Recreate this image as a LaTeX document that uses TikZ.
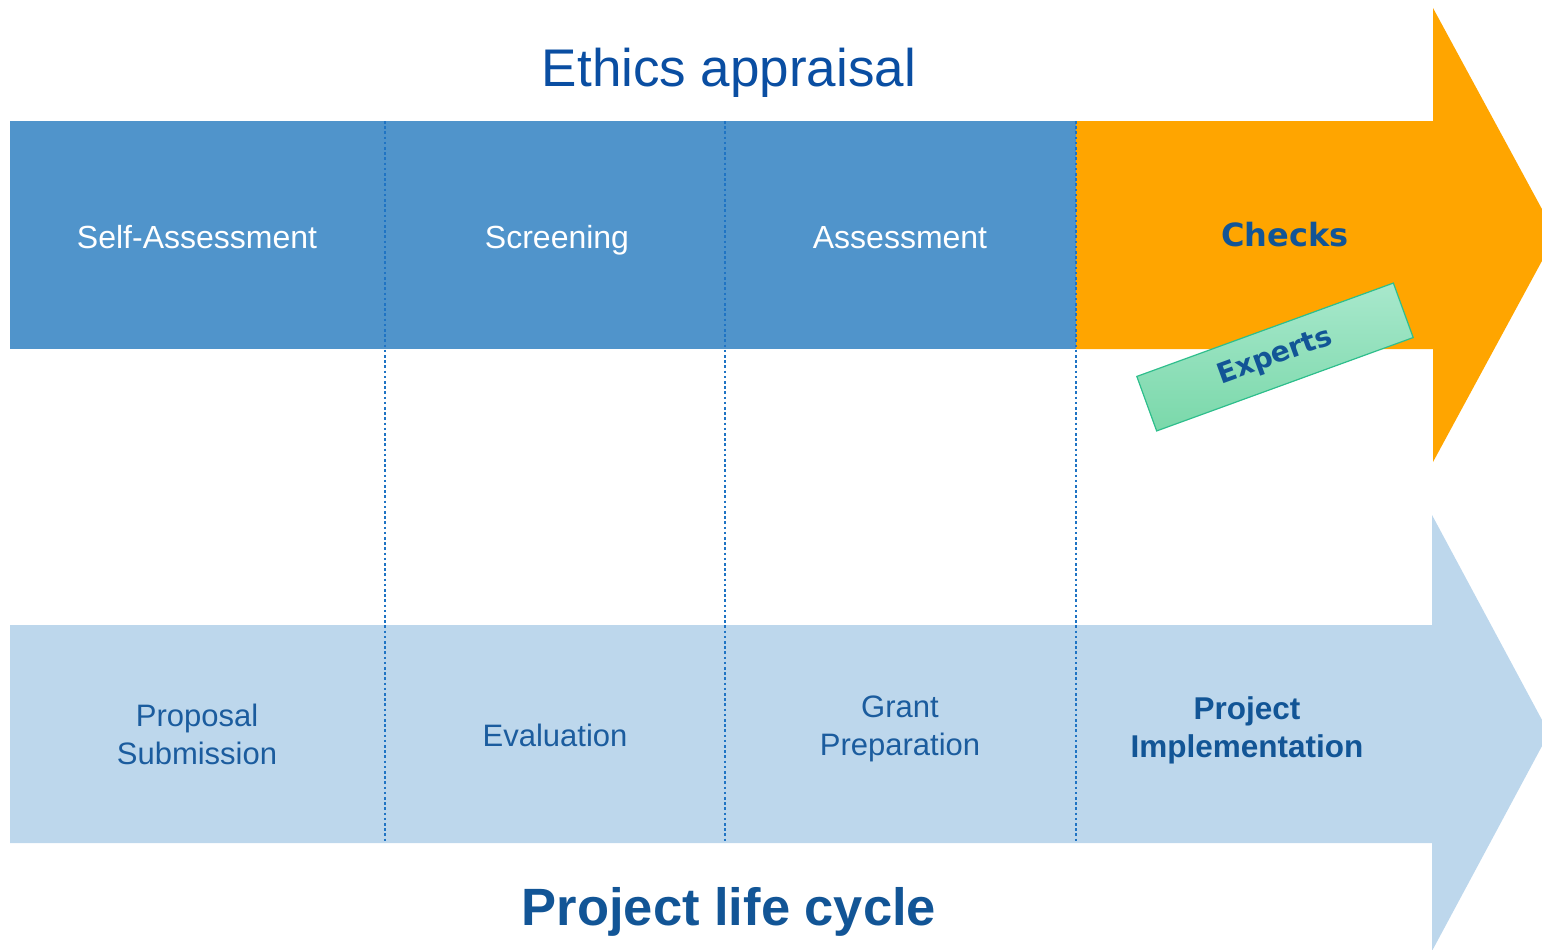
\documentclass[tikz,border=0pt]{standalone}
\usepackage{fontspec}
\setmainfont{Liberation Sans}
\newfontfamily\widesans{DejaVu Sans}

\definecolor{phaseblue}{HTML}{5094CB}
\definecolor{checkorange}{HTML}{FFA500}
\definecolor{cyclelight}{HTML}{BDD7EC}
\definecolor{divider}{HTML}{1F74C4}
\definecolor{titleblue}{HTML}{0A4EA2}
\definecolor{darkblue}{HTML}{125596}
\definecolor{labelblue}{HTML}{1B5C9E}
\definecolor{expertlight}{HTML}{A8E8CC}
\definecolor{expertdeep}{HTML}{7AD8AA}
\definecolor{expertedge}{HTML}{2EBE8C}

\begin{document}
\begin{tikzpicture}[x=1pt,y=-1pt,
  every node/.style={inner sep=0pt, anchor=base},
  phasetext/.style={text=white, font=\fontsize{32}{37}\selectfont},
  cycletext/.style={text=labelblue, align=center, font=\fontsize{31}{37.5}\selectfont},
  cyclebold/.style={text=darkblue, align=center, font=\fontsize{31.5}{37.5}\selectfont\bfseries},
  headline/.style={text=titleblue, font=\fontsize{53}{60}\selectfont},
  footline/.style={text=darkblue, font=\fontsize{52.5}{60}\selectfont\bfseries},
  checktext/.style={text=darkblue, font=\widesans\fontsize{32}{36}\selectfont\bfseries},
  expertbox/.style={anchor=center, draw=expertedge, line width=1.2pt,
    top color=expertlight, bottom color=expertdeep, rotate=20,
    minimum width=273pt, minimum height=58pt,
    text=darkblue, font=\widesans\fontsize{28}{32}\selectfont\bfseries},
  dividerline/.style={draw=divider, line width=2.4pt, dash pattern=on 2.6pt off 2.6pt}
]
\useasboundingbox (0,0) rectangle (1542,950);

% the two big arrows, cut off at the page edge
\begin{scope}
  \clip (0,0) rectangle (1542,950);
  \fill[cyclelight] (10,625) -- (1432,625) -- (1432,515) -- (1549,733)
    -- (1432,951) -- (1432,843) -- (10,843) -- cycle;
  \fill[checkorange] (1076,121) -- (1433,121) -- (1433,8) -- (1556,235)
    -- (1433,462) -- (1433,349) -- (1076,349) -- cycle;
\end{scope}

% appraisal band
\fill[phaseblue] (10,121) rectangle (1076,349);

% dotted dividers between the phases
\coordinate (d1t) at (385,121);  \coordinate (d1b) at (385,843);
\coordinate (d2t) at (725,121);  \coordinate (d2b) at (725,843);
\coordinate (d3t) at (1076,121); \coordinate (d3b) at (1076,843);
\draw[dividerline] (d1t) -- (d1b);
\draw[dividerline] (d2t) -- (d2b);
\draw[dividerline] (d3t) -- (d3b);

% titles
\node[headline] (ethics) at (729,86) {Ethics appraisal};
\node[footline] (lifecycle) at (729,925) {Project life cycle};

% appraisal steps
\node[phasetext] (selfassess) at (197,248) {Self-Assessment};
\node[phasetext] (screening) at (557,248) {Screening};
\node[phasetext] (assessment) at (900,248) {Assessment};
\node[checktext] (checks) at (1285,246) {Checks};

% life cycle steps (base anchor sits on the last line)
\node[cycletext] (proposal) at (197,764) {Proposal\\Submission};
\node[cycletext] (evaluation) at (555,746) {Evaluation};
\node[cycletext] (grant) at (900,755) {Grant\\Preparation};
\node[cyclebold] (implementation) at (1247,757) {Project\\Implementation};

% experts label
\node[expertbox] (experts) at (1275,357) {Experts};
\end{tikzpicture}
\end{document}
